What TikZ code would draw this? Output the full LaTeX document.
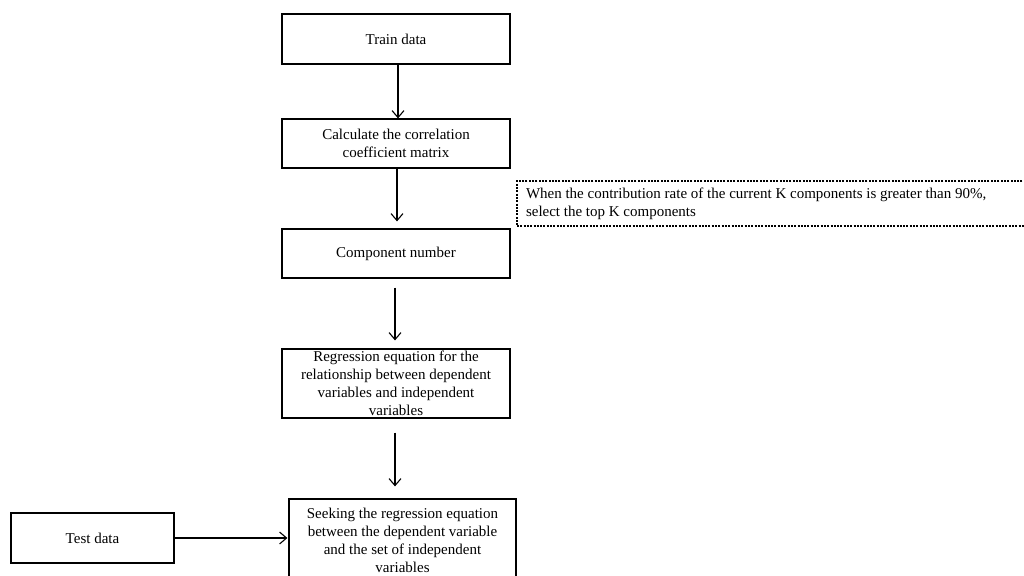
\documentclass[tikz,border=0pt]{standalone}
\usepackage{fontspec}
\setmainfont{Liberation Serif}
\usetikzlibrary{arrows.meta}
\begin{document}
\begin{tikzpicture}[x=1pt,y=-1pt,
  box/.style={draw, line width=1.2pt, minimum width=228pt, inner sep=2pt, align=center,
    font=\fontsize{15}{18}\selectfont},
  notebox/.style={draw, line width=2pt, dash pattern=on 2pt off 1.3pt, anchor=west,
    minimum width=514pt, minimum height=45pt, text width=496pt, inner xsep=8pt, align=flush left,
    font=\fontsize{15}{18}\selectfont},
  arr/.style={line width=1.1pt, -{Straight Barb[length=7pt,width=12pt,line width=1.1pt]}}]
\useasboundingbox (0,0) rectangle (1024,575);
\clip (0,0) rectangle (1024,575);
\node[box, minimum height=50pt] (train) at (396,39) {Train data};
\node[box, minimum height=49pt] (calc) at (396,143.5) {Calculate the correlation\\coefficient matrix};
\node[box, minimum height=49pt] (comp) at (396,253.5) {Component number};
\node[box, minimum height=69pt] (regr) at (396,383.5) {Regression equation for the\\relationship between dependent\\variables and independent\\variables};
\node[box, minimum width=227pt, minimum height=82pt] (seek) at (402.5,540) {Seeking the regression equation\\between the dependent variable\\and the set of independent\\variables};
\node[box, minimum width=163pt, minimum height=50pt] (test) at (92.5,538) {Test data};
\node[notebox] (note) at (516,203.5) {When the contribution rate of the current K components is greater than 90\%,\\select the top K components};
\draw[arr] ([xshift=2pt]train.south) -- ([xshift=2pt]calc.north);
\draw[arr, shorten >=7pt] ([xshift=1pt]calc.south) -- ([xshift=1pt]comp.north);
\draw[arr, shorten <=9pt, shorten >=8pt] ([xshift=-1pt]comp.south) -- ([xshift=-1pt]regr.north);
\draw[arr, shorten <=14pt, shorten >=12pt] ([xshift=-1pt]regr.south) -- ([xshift=-1pt]regr.south |- seek.north);
\draw[arr, shorten >=1pt] (test.east) -- (seek.west |- test.east);
\end{tikzpicture}
\end{document}
